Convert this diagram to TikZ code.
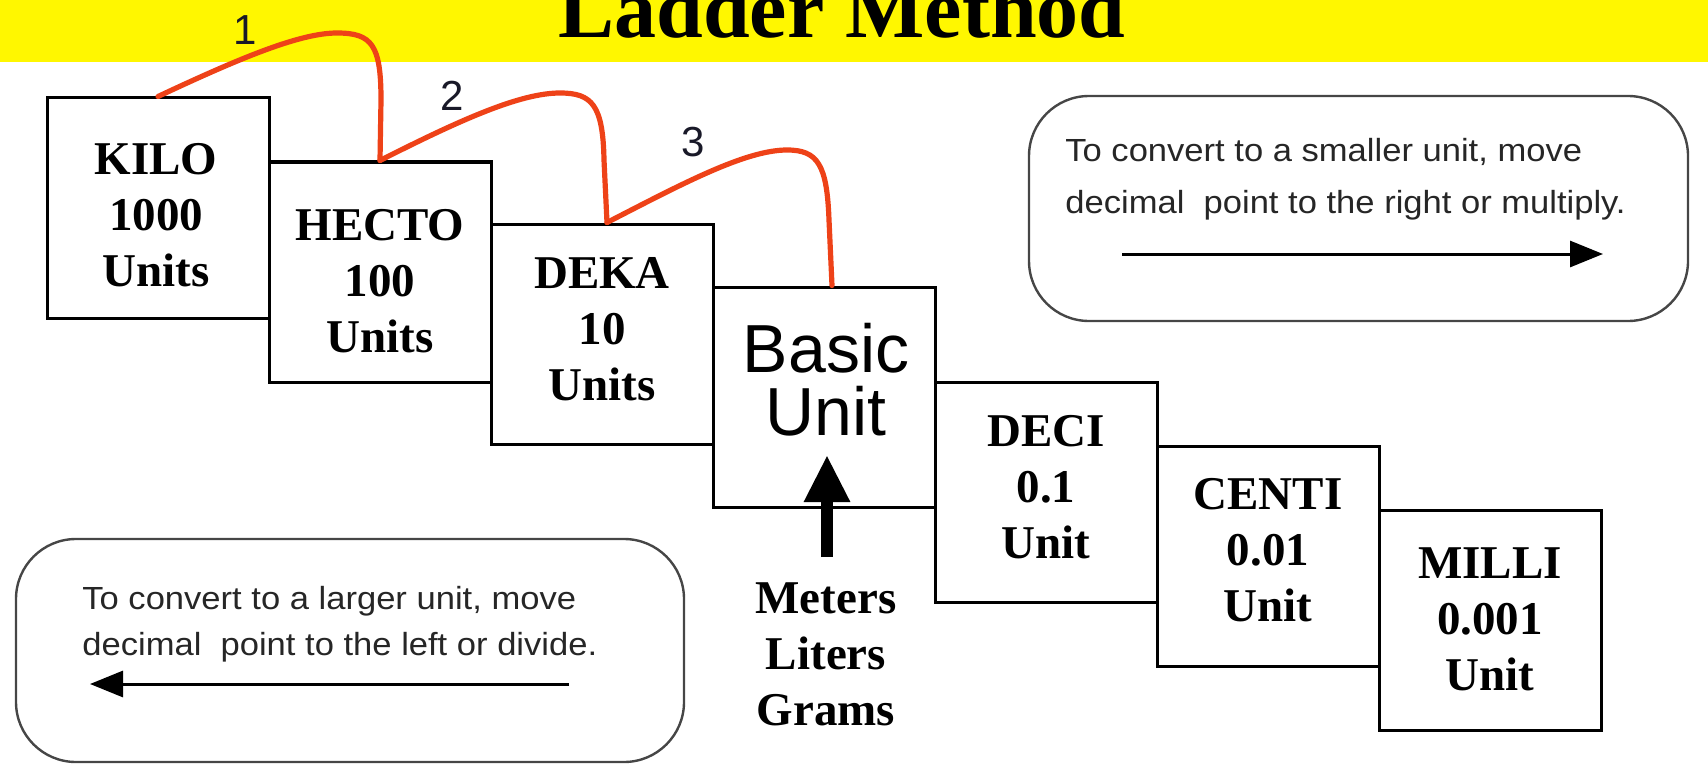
\documentclass[tikz,border=0pt]{standalone}
\usepackage{fontspec}
\setmainfont{Liberation Serif}
\newfontfamily\arialf{Liberation Sans}
\newfontfamily\arialx[FakeStretch=1.08]{Liberation Sans}
\usetikzlibrary{arrows.meta}
\definecolor{banner}{RGB}{255,247,0}
\definecolor{ladred}{RGB}{238,66,24}
\definecolor{boxgray}{RGB}{70,70,70}
\definecolor{numink}{RGB}{25,25,40}
\begin{document}
\begin{tikzpicture}[x=0.5pt,y=-0.5pt,
  stepbox/.style={draw=black,line width=1.5pt,fill=white,minimum width=111pt,minimum height=110pt,inner sep=0pt},
  boxtext/.style={font=\bfseries\fontsize{23.5}{28}\selectfont,align=center,inner sep=0pt},
  notebox/.style={draw=boxgray,line width=1.2pt,rounded corners=30pt,inner sep=0pt},
  notetext/.style={font=\arialx\fontsize{16}{26}\selectfont,align=left,inner sep=0pt,text=black!85,anchor=north west},
  notearrow/.style={line width=1.5pt,-{Triangle[length=16.5pt,width=13pt]}},
  jump/.style={draw=ladred,line width=2.6pt,line cap=round},
  jumpnum/.style={font=\arialf\fontsize{21}{21}\selectfont,text=numink,inner sep=0pt}
]
\useasboundingbox (0,0) rectangle (1708,765);
\fill[banner] (0,0) rectangle (1708,62);
\node[font=\bfseries\fontsize{42}{42}\selectfont,anchor=base,inner sep=0pt] (title) at (842,38) {Ladder Method};

% ladder boxes
\node[stepbox] (kilo)  at (158,208) {};
\node[stepbox] (hecto) at (380,272) {};
\node[stepbox] (deka)  at (602,334) {};
\node[stepbox] (basic) at (824,397) {};
\node[stepbox] (deci)  at (1046,492) {};
\node[stepbox] (centi) at (1268,556) {};
\node[stepbox] (milli) at (1490,620) {};

\node[boxtext] (kilot)  at (156,215) {KILO\\1000\\Units};
\node[boxtext] (hectot) at (380,281) {HECTO\\100\\Units};
\node[boxtext] (dekat)  at (602,329) {DEKA\\10\\Units};
\node[font=\arialf\fontsize{34}{31.5}\selectfont,align=center,inner sep=0pt] (basict) at (826,380) {Basic\\Unit};
\node[boxtext] (decit)  at (1046,487) {DECI\\0.1\\Unit};
\node[boxtext] (centit) at (1268,550) {CENTI\\0.01\\Unit};
\node[boxtext] (millit) at (1490,619) {MILLI\\0.001\\Unit};

% basic unit arrow and examples
\node[boxtext] (examples) at (826,654) {Meters\\Liters\\Grams};
\coordinate (upfoot) at (827,557);
\coordinate (uptip) at (827,455);
\draw[line width=6pt,-{Triangle[length=23.5pt,width=21.5pt]}] (upfoot) -- (uptip);

% red jumps
\draw[jump] (kilo.north) .. controls (240,58) and (300,33) .. (337,33)
  .. controls (372,33) and (381,45) .. (381,100) -- (hecto.north);
\draw[jump] (hecto.north) .. controls (460,120) and (520,93) .. (560,93)
  .. controls (592,93) and (603,105) .. (604,160) -- ([xshift=2.5pt]deka.north);
\draw[jump] ([xshift=2.5pt]deka.north) .. controls (680,185) and (745,150) .. (787,150)
  .. controls (818,150) and (827,165) .. (829,220) -- ([xshift=4pt]basic.north);
\node[jumpnum] (n1) at (245,30) {1};
\node[jumpnum] (n2) at (452,96) {2};
\node[jumpnum] (n3) at (693,142) {3};

% note boxes
\node[notebox,minimum width=329.5pt,minimum height=112.5pt] (rbox) at (1358.5,208.5) {};
\node[notetext] (rtext) at (1065,138) {To convert to a smaller unit, move\\decimal\ \ point to the right or multiply.};
\coordinate (ra1) at (1122,254);
\coordinate (ra2) at (1603,254);
\draw[notearrow] (ra1) -- (ra2);

\node[notebox,minimum width=334pt,minimum height=111.5pt] (lbox) at (350,650.5) {};
\node[notetext,font=\arialx\fontsize{16}{23}\selectfont] (ltext) at (82,586) {To convert to a larger unit, move\\decimal\ \ point to the left or divide.};
\coordinate (la1) at (569,684);
\coordinate (la2) at (90,684);
\draw[notearrow] (la1) -- (la2);
\end{tikzpicture}
\end{document}
